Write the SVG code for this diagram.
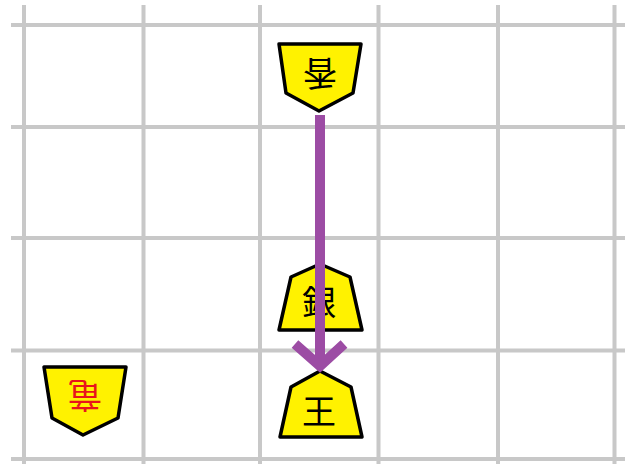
<svg xmlns="http://www.w3.org/2000/svg" width="637" height="464" viewBox="0 0 637 464">
<style>
.grid line{stroke:#c8c8c8;stroke-width:4}
.piece polygon{fill:#fff200;stroke:#000;stroke-width:3.5;stroke-linejoin:round}
.piece text{font-family:"Noto Sans CJK JP","Noto Sans CJK SC",sans-serif;font-size:34px;text-anchor:middle;dominant-baseline:central}
.arrow{stroke:#9c4ca4;stroke-width:10;fill:none;stroke-linecap:butt}
</style>
<rect width="637" height="464" fill="#fff"/>
<g class="grid">
<line x1="24" y1="5" x2="24" y2="464"/>
<line x1="143.5" y1="5" x2="143.5" y2="464"/>
<line x1="260" y1="5" x2="260" y2="464"/>
<line x1="378.5" y1="5" x2="378.5" y2="464"/>
<line x1="498" y1="5" x2="498" y2="464"/>
<line x1="614.5" y1="5" x2="614.5" y2="464"/>
<line x1="11" y1="25" x2="625" y2="25"/>
<line x1="11" y1="127" x2="625" y2="127"/>
<line x1="11" y1="238" x2="625" y2="238"/>
<line x1="11" y1="350.5" x2="625" y2="350.5"/>
<line x1="11" y1="459" x2="625" y2="459"/>
</g>
<g id="lance" class="piece">
<polygon points="279,44 361,44 353,93 319,111 286,93"/>
<text x="320" y="75" transform="rotate(180 320 75)">香</text>
</g>
<g id="silver" class="piece">
<polygon points="320,264 350,277 362,330 279,330 291,277"/>
<text x="319" y="300">銀</text>
</g>
<g id="king" class="piece">
<polygon points="320,371 351,387 362,437 280,437 291,387"/>
<text x="319" y="409">王</text>
</g>
<g id="dragon" class="piece">
<polygon points="44,367 126,367 118,418 83,435 52,418"/>
<text x="85" y="397" fill="#e8141c" transform="rotate(180 85 397)">竜</text>
</g>
<g id="connectors">
<line class="arrow" x1="320" y1="115" x2="320" y2="366"/>
<polyline class="arrow" points="295,344 320,366 344,344"/>
</g>
</svg>
